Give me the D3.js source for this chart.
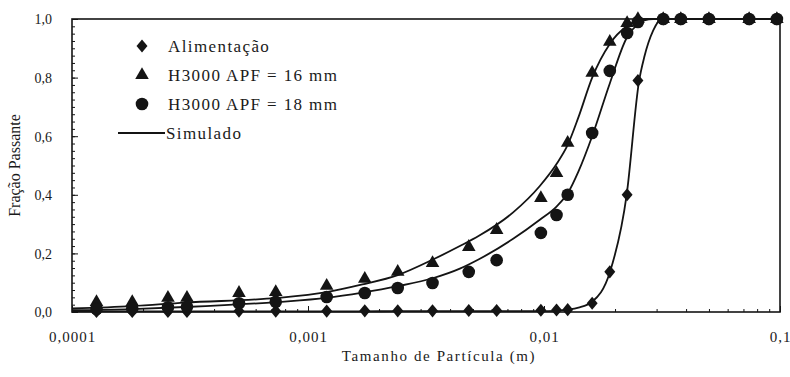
<!DOCTYPE html>
<html>
<head>
<meta charset="utf-8">
<script src="https://cdnjs.cloudflare.com/ajax/libs/d3/7.8.5/d3.min.js"></script>
<style>
  body { margin: 0; background: #fff; }
  svg { display: block; }
  text { font-family: "Liberation Serif", "Times New Roman", serif; fill: #1a1a1a; }
</style>
</head>
<body>
<div id="chart"></div>
<script>
const width = 790;
const height = 377;

// sieve sizes (m)
const sizes = [0.000127, 0.00018, 0.000255, 0.000307, 0.00051, 0.00073, 0.0012, 0.00174, 0.0024, 0.00337,
  0.0048, 0.0063, 0.0097, 0.0113, 0.0126, 0.016, 0.019, 0.0225, 0.025, 0.032, 0.038, 0.05, 0.074, 0.097];
const feed = [0.002, 0.002, 0.002, 0.002, 0.003, 0.003, 0.003, 0.004, 0.004, 0.004,
  0.005, 0.005, 0.006, 0.007, 0.008, 0.03, 0.137, 0.40, 0.79, 1.0, 1.0, 1.0, 1.0, 1.0];
const apf16 = [0.034, 0.034, 0.048, 0.048, 0.065, 0.068, 0.089, 0.113, 0.137, 0.167,
  0.222, 0.28, 0.389, 0.474, 0.577, 0.816, 0.922, 0.986, 1.0, 1.0, 1.0, 1.0, 1.0, 1.0];
const apf18 = [0.01, 0.012, 0.016, 0.018, 0.03, 0.035, 0.051, 0.065, 0.082, 0.099,
  0.137, 0.177, 0.27, 0.331, 0.40, 0.611, 0.823, 0.952, 0.99, 1.0, 1.0, 1.0, 1.0, 1.0];

// simulated curves, read at these sizes
const simX = [0.0001, 0.00018, 0.0003, 0.00074, 0.0012, 0.0017, 0.0024, 0.0034, 0.0044, 0.0053, 0.0074,
  0.0096, 0.0113, 0.0126, 0.014, 0.016, 0.019, 0.0224, 0.0253, 0.0266, 0.029, 0.0315, 0.05, 0.1];
const simFeed = [0.002, 0.002, 0.002, 0.002, 0.002, 0.002, 0.003, 0.003, 0.003, 0.003, 0.003,
  0.003, 0.004, 0.008, 0.015, 0.035, 0.135, 0.40, 0.79, 0.87, 0.96, 1.0, 1.0, 1.0];
const sim16 = [0.012, 0.02, 0.032, 0.048, 0.068, 0.094, 0.126, 0.18, 0.225, 0.26, 0.34,
  0.43, 0.505, 0.57, 0.665, 0.8, 0.915, 0.975, 0.997, 1.0, 1.0, 1.0, 1.0, 1.0];
const sim18 = [0.006, 0.01, 0.017, 0.034, 0.048, 0.066, 0.088, 0.116, 0.148, 0.18, 0.25,
  0.315, 0.36, 0.405, 0.48, 0.6, 0.78, 0.935, 0.985, 0.995, 1.0, 1.0, 1.0, 1.0];

const xTickValues = [0.0001, 0.001, 0.01, 0.1];
const xTickLabels = ["0,0001", "0,001", "0,01", "0,1"];
const yTickValues = [0, 0.2, 0.4, 0.6, 0.8, 1.0];
const yTickLabels = ["0,0", "0,2", "0,4", "0,6", "0,8", "1,0"];
const legendLabels = ["Alimentação", "H3000 APF = 16 mm", "H3000 APF = 18 mm", "Simulado"];

const ink = "#141414";

let svg = d3.select("#chart").append("svg")
  .attr("width", width)
  .attr("height", height);

let x = d3.scaleLog().domain([0.0001, 0.1]).range([72, 780]);
let y = d3.scaleLinear().domain([0, 1]).range([312, 19]);

// minor ticks
let xMinor = [];
for (let e = -4; e < -1; e++) for (let k = 2; k <= 9; k++) xMinor.push(k * Math.pow(10, e));
let yMinor = d3.range(0, 1.0001, 0.025);

svg.append("g")
  .attr("transform", `translate(0,${y(0)})`)
  .call(d3.axisBottom(x).tickValues(xMinor).tickSize(-3).tickFormat(""))
  .call(g => g.select(".domain").remove())
  .selectAll("line").attr("stroke", ink);

svg.append("g")
  .attr("transform", `translate(${x(0.0001)},0)`)
  .call(d3.axisLeft(y).tickValues(yMinor).tickSize(-3).tickFormat(""))
  .call(g => g.select(".domain").remove())
  .selectAll("line").attr("stroke", ink);

let xAxis = svg.append("g")
  .attr("transform", `translate(0,${y(0)})`)
  .call(d3.axisBottom(x).tickValues(xTickValues).tickSize(-6).tickPadding(19)
    .tickFormat((d, i) => xTickLabels[i]));
xAxis.select(".domain").remove();
xAxis.selectAll("line").attr("stroke", ink);
xAxis.selectAll("text")
  .style("font-size", "15px")
  .style("letter-spacing", "1px");

let yAxis = svg.append("g")
  .attr("transform", `translate(${x(0.0001)},0)`)
  .call(d3.axisLeft(y).tickValues(yTickValues).tickSize(-6).tickPadding(20)
    .tickFormat((d, i) => yTickLabels[i]));
yAxis.select(".domain").remove();
yAxis.selectAll("line").attr("stroke", ink);
yAxis.selectAll("text")
  .style("font-size", "14px")
  .attr("dy", "0.35em");

// frame
svg.append("rect")
  .attr("x", x(0.0001))
  .attr("y", y(1))
  .attr("width", x(0.1) - x(0.0001))
  .attr("height", y(0) - y(1))
  .attr("fill", "none")
  .attr("stroke", ink)
  .attr("stroke-width", 1.6);

// axis titles
svg.append("text")
  .attr("x", 439)
  .attr("y", 361)
  .attr("text-anchor", "middle")
  .style("font-size", "15px")
  .style("letter-spacing", "1.6px")
  .text("Tamanho de Partícula (m)");

svg.append("text")
  .attr("transform", `translate(20,${(y(0) + y(1)) / 2}) rotate(-90)`)
  .attr("text-anchor", "middle")
  .style("font-size", "16px")
  .text("Fração Passante");

// simulated curves
let line = d3.line()
  .x(d => x(d[0]))
  .y(d => y(d[1]))
  .curve(d3.curveMonotoneX);

[simFeed, sim16, sim18].forEach(vals => {
  svg.append("path")
    .datum(simX.map((v, i) => [v, vals[i]]))
    .attr("d", line)
    .attr("fill", "none")
    .attr("stroke", ink)
    .attr("stroke-width", 1.8);
});

// marker shapes
const diamondTall = {
  draw(context, size) {
    const r = Math.sqrt(size) / 2;
    context.moveTo(0, -r * 1.2);
    context.lineTo(r, 0);
    context.lineTo(0, r * 1.2);
    context.lineTo(-r, 0);
    context.closePath();
  }
};
const markerDiamond = d3.symbol().type(diamondTall).size(120);
const markerTriangle = d3.symbol().type(d3.symbolTriangle).size(80);
const markerCircle = d3.symbol().type(d3.symbolCircle).size(125);

const series = [
  { vals: feed, sym: markerDiamond },
  { vals: apf16, sym: markerTriangle },
  { vals: apf18, sym: markerCircle }
];

series.forEach(s => {
  svg.append("g")
    .selectAll("path")
    .data(sizes.map((v, i) => [v, s.vals[i]]))
    .enter()
    .append("path")
    .attr("transform", d => `translate(${x(d[0])},${y(d[1])})`)
    .attr("d", s.sym())
    .attr("fill", ink);
});

// legend
let legend = svg.append("g");
const legendY = [46, 75, 104, 133];
[markerDiamond, markerTriangle, markerCircle].forEach((sym, i) => {
  legend.append("path")
    .attr("transform", `translate(142,${legendY[i]})`)
    .attr("d", sym())
    .attr("fill", ink);
});
legend.append("line")
  .attr("x1", 118).attr("x2", 165)
  .attr("y1", legendY[3]).attr("y2", legendY[3])
  .attr("stroke", ink)
  .attr("stroke-width", 1.8);
legend.selectAll("text.lbl")
  .data(legendLabels)
  .enter()
  .append("text")
  .classed("lbl", true)
  .attr("x", (d, i) => i === 3 ? 166 : 168)
  .attr("y", (d, i) => legendY[i])
  .attr("dy", "0.35em")
  .style("font-size", "17px")
  .style("letter-spacing", "1.4px")
  .text(d => d);
</script>
</body>
</html>
